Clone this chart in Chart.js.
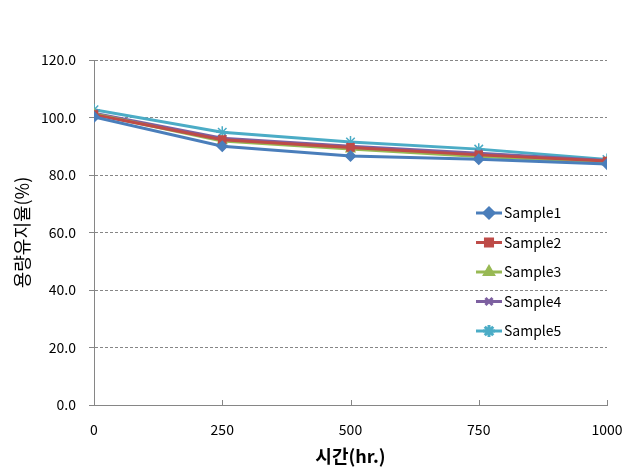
<!DOCTYPE html>
<html>
<head>
<meta charset="utf-8">
<script src="https://cdn.jsdelivr.net/npm/chart.js@4.4.0/dist/chart.umd.min.js"></script>
<style>
  html, body { margin: 0; padding: 0; background: #fff; }
  canvas { display: block; }
</style>
</head>
<body>
<canvas id="chart" width="632" height="476"></canvas>
<script>
const hours = [0, 250, 500, 750, 1000];
const sample1 = [100.2, 90.0, 86.6, 85.5, 83.8];
const sample2 = [101.0, 92.3, 89.6, 87.0, 84.9];
const sample3 = [101.2, 91.8, 89.0, 86.4, 84.5];
const sample4 = [101.5, 92.8, 90.0, 87.6, 85.0];
const sample5 = [102.7, 94.9, 91.5, 89.0, 85.4];
const yTicks = [0, 20, 40, 60, 80, 100, 120];

const FONT = "'Noto Sans CJK KR', 'Noto Sans', sans-serif";

const series = [
  { label: "Sample1", data: sample1, color: "#4a7ebb", style: "rectRot", radius: 5 },
  { label: "Sample2", data: sample2, color: "#be4b48", style: "rect", radius: 5 },
  { label: "Sample3", data: sample3, color: "#98b954", style: "triangle", radius: 5 },
  { label: "Sample4", data: sample4, color: "#7d60a0", style: "crossRot", radius: 5 },
  { label: "Sample5", data: sample5, color: "#4bacc6", style: "star", radius: 6 },
];

// legend drawn inside the plot area, like the original
const innerLegend = {
  id: "innerLegend",
  afterDraw(chart) {
    const { ctx, chartArea } = chart;
    const x0 = chartArea.left + 382;
    let y = chartArea.top + 153;
    ctx.save();
    ctx.font = "14px " + FONT;
    ctx.textBaseline = "middle";
    chart.data.datasets.forEach((ds) => {
      ctx.strokeStyle = ds.borderColor;
      ctx.lineWidth = 3;
      ctx.beginPath();
      ctx.moveTo(x0, y);
      ctx.lineTo(x0 + 26, y);
      ctx.stroke();
      ctx.fillStyle = ds.borderColor;
      Chart.helpers.drawPoint(ctx, {
        pointStyle: ds.pointStyle,
        radius: ds.pointRadius,
        borderWidth: 1.5,
        rotation: 0,
      }, x0 + 13, y);
      ctx.fillStyle = "#000";
      ctx.fillText(ds.label, x0 + 28, y);
      y += 29.5;
    });
    ctx.restore();
  },
};

// small x tick marks pointing up into the plot
const xTickMarks = {
  id: "xTickMarks",
  afterDraw(chart) {
    const { ctx } = chart;
    const xs = chart.scales.x;
    const bottom = chart.chartArea.bottom;
    ctx.save();
    ctx.strokeStyle = "#868686";
    ctx.lineWidth = 1;
    hours.forEach((h) => {
      const px = Math.round(xs.getPixelForValue(h)) + 0.5;
      ctx.beginPath();
      ctx.moveTo(px, bottom);
      ctx.lineTo(px, bottom - 5);
      ctx.stroke();
    });
    ctx.restore();
  },
};

new Chart(document.getElementById("chart"), {
  type: "line",
  data: {
    datasets: series.map((s) => ({
      label: s.label,
      data: hours.map((h, i) => ({ x: h, y: s.data[i] })),
      borderColor: s.color,
      backgroundColor: s.color,
      pointBorderColor: s.color,
      pointBackgroundColor: s.color,
      pointStyle: s.style,
      pointRadius: s.radius,
      pointBorderWidth: 1.5,
      borderWidth: 3,
      tension: 0,
    })),
  },
  options: {
    responsive: false,
    animation: false,
    layout: { padding: { top: 60, right: 25, left: 11, bottom: 9 } },
    plugins: {
      legend: { display: false },
      tooltip: { enabled: false },
    },
    scales: {
      x: {
        type: "linear",
        min: 0,
        max: 1000,
        afterBuildTicks: (scale) => { scale.ticks = hours.map((v) => ({ value: v })); },
        afterFit: (scale) => { scale.height = 62; },
        grid: { display: false },
        border: { display: true, color: "#868686" },
        ticks: {
          color: "#000",
          font: { family: FONT, size: 14 },
          padding: 8,
          callback: (v) => String(v),
        },
        title: {
          display: true,
          text: "시간(hr.)",
          color: "#000",
          font: { family: FONT, size: 18, weight: "bold" },
          padding: { top: 0, bottom: 0 },
        },
      },
      y: {
        min: 0,
        max: 120,
        afterBuildTicks: (scale) => { scale.ticks = yTicks.map((v) => ({ value: v })); },
        afterFit: (scale) => { scale.width = 83; },
        grid: {
          color: (c) => (c.tick.value === 0 ? "rgba(0,0,0,0)" : "#868686"),
          lineWidth: 1,
          drawTicks: true,
          tickLength: 5,
          tickColor: "#868686",
          tickBorderDash: [],
        },
        border: { display: true, color: "#868686", dash: [3, 2] },
        ticks: {
          color: "#000",
          font: { family: FONT, size: 14 },
          padding: 13,
          callback: (v) => v.toFixed(1),
        },
        title: {
          display: true,
          text: "용량유지율(%)",
          color: "#000",
          font: { family: FONT, size: 18 },
          padding: { top: 0, bottom: 0 },
        },
      },
    },
  },
  plugins: [innerLegend, xTickMarks],
});
</script>
</body>
</html>
